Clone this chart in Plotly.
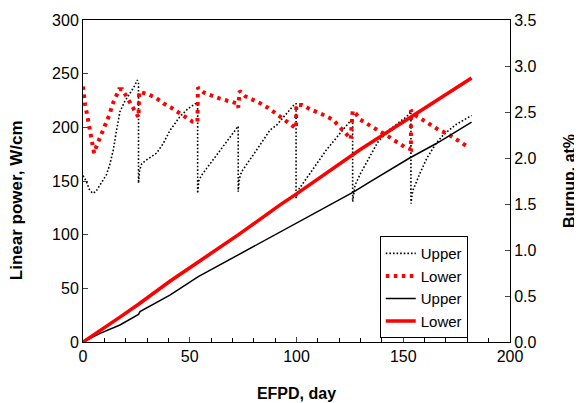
import plotly.graph_objects as go

# Linear power, Upper (black dotted)
up_day = [0, 1.5, 3, 4.5, 6, 8, 11, 12.5, 14.2, 15.5, 17.3, 19.5, 22, 24, 25.4, 26,
          26, 26.5, 27.5, 30, 34.5, 37.6, 40.7, 45.4, 49, 52.5, 53.7,
          53.7, 54.2, 55.6, 58, 61, 65.7, 71.2, 72.7,
          72.7, 73.2, 74.3, 78.2, 82.9, 87.6, 90.7, 95.4, 99.3, 99.8,
          99.8, 100.3, 100.8, 106.3, 110, 114, 120.4, 125.9, 126.3,
          126.3, 126.8, 127.4, 130, 134, 138, 143, 148, 151.6, 153.6,
          153.6, 154.2, 154.7, 158, 161, 165, 168.8, 175, 182]
up_pow = [155, 150, 142, 138.5, 140, 146, 156, 165, 179, 195, 214.6, 224, 231.7, 238, 244, 242,
          148, 160, 166, 170, 176, 185, 197, 210, 217, 222, 222,
          138.5, 150, 155.6, 162, 170, 183, 197.5, 201,
          140, 152, 158.7, 169.6, 183.5, 197.5, 202, 213, 222, 222,
          134, 138, 141.6, 157, 168, 179, 194.4, 207, 208.4,
          130.7, 140, 146, 157, 172, 186, 197, 205, 210, 214.6,
          129, 138, 142, 158, 171, 184, 193, 203, 211]

# Linear power, Lower (red dotted)
lo_day = [0, 0.5, 1, 1.8, 2.5, 3, 4, 4.5, 5.2, 6.4, 8, 9.5, 11, 12.6, 13.7, 15.3, 16.9, 18.4,
          20.5, 22.3, 24.4, 26, 26.3, 30.6, 34.5, 37.6, 41, 44.6, 47.8, 51.3, 53.6,
          53.8, 56.7, 60.6, 64.2, 68.2, 71.9, 72.7, 73.4, 76, 79.8, 83.4, 86.8, 90.2, 93.4,
          96.6, 99.8, 99.9, 102.7, 106.3, 110.2, 113.8, 117.2, 120, 122.8, 125.4, 126.3,
          127.7, 129.6, 133.3, 136.8, 140.3, 143.8, 147.2, 150.5, 153.6, 153.6, 156.2,
          159.7, 163.3, 166.7, 170.3, 174, 177.4, 181]
lo_pow = [238, 228, 221, 213, 205, 197, 189, 181, 176, 183, 190, 198, 205, 213, 221, 228, 235.5, 235.5,
          228.6, 221.5, 214.6, 209.4, 233, 230.8, 227, 222.4, 218.7, 214, 210, 205.3, 205,
          237, 232.3, 229.2, 226.7, 224.5, 222.4, 218.3, 233.9, 229, 225.8, 222, 218, 213, 208.4,
          203.8, 199, 221, 220.8, 217, 214, 210.6, 206.8, 201.5, 195, 189, 215.5,
          213, 207.5, 203, 199, 195, 190.6, 186, 182, 179.5, 216, 210.6,
          206, 201.6, 197.5, 194.4, 189.8, 185.7, 181]

# Burnup, Upper (black solid)
bu_up_day = [0, 8, 17.3, 26, 26.7, 40.7, 54, 73, 92.3, 100, 111, 126.6, 134.4, 153, 165.7, 182]
bu_up_val = [0, 0.094, 0.185, 0.3, 0.33, 0.51, 0.71, 0.95, 1.2, 1.3, 1.43, 1.63, 1.74, 2.0, 2.16, 2.39]

# Burnup, Lower (red thick)
bu_lo_day = [0, 8, 17.3, 26, 40.7, 54, 73, 92.3, 100, 129.7, 153, 182]
bu_lo_val = [0, 0.13, 0.27, 0.41, 0.66, 0.87, 1.17, 1.49, 1.61, 2.09, 2.44, 2.87]

FONT = "Arial, Liberation Sans, sans-serif"

fig = go.Figure()
fig.add_trace(go.Scatter(x=up_day, y=up_pow, mode="lines", name="Upper",
                         line=dict(color="black", width=1.6, dash="1.6px,2px")))
fig.add_trace(go.Scatter(x=lo_day, y=lo_pow, mode="lines", name="Lower",
                         line=dict(color="#ff0000", width=4, dash="3.5px,4.5px")))
fig.add_trace(go.Scatter(x=bu_up_day, y=bu_up_val, mode="lines", name="Upper", yaxis="y2",
                         line=dict(color="black", width=1.5)))
fig.add_trace(go.Scatter(x=bu_lo_day, y=bu_lo_val, mode="lines", name="Lower", yaxis="y2",
                         line=dict(color="#ff0000", width=3.5)))

# page body has an 8px margin, so the figure is 8px smaller and offset
fig.update_layout(
    width=574, height=395,
    margin=dict(l=75, r=72, t=12, b=61, autoexpand=False),
    paper_bgcolor="white", plot_bgcolor="white",
    font=dict(family=FONT, size=16, color="black"),
    showlegend=True,
    legend=dict(x=0.695, y=0.012, xanchor="left", yanchor="bottom",
                bordercolor="black", borderwidth=1, bgcolor="white",
                font=dict(size=15), tracegroupgap=0, itemwidth=30),
    xaxis=dict(range=[0, 200], dtick=50, ticks="inside", ticklen=5, tickwidth=1,
               showline=True, linecolor="black", linewidth=1, mirror=True,
               showgrid=False, zeroline=False, automargin=False,
               minor=dict(dtick=10, ticks="inside", ticklen=4, tickcolor="black"),
               title=dict(text="<b>EFPD, day</b>", font=dict(size=16), standoff=23)),
    yaxis=dict(range=[0, 300], dtick=50, ticks="inside", ticklen=5,
               showline=True, linecolor="black", linewidth=1,
               showgrid=False, zeroline=False, automargin=False),
    yaxis2=dict(range=[0, 3.5], dtick=0.5, tickformat=".1f", ticks="inside", ticklen=5,
                overlaying="y", side="right",
                showline=True, linecolor="black", linewidth=1,
                showgrid=False, zeroline=False, automargin=False,
                title=dict(text="<b>Burnup, at%</b>", font=dict(size=16), standoff=28)),
    annotations=[dict(text="<b>Linear power, W/cm</b>", xref="paper", yref="paper",
                      x=-0.155, y=0.44, textangle=-90, showarrow=False,
                      xanchor="center", yanchor="middle", font=dict(size=17))],
)

fig.write_html("out.html")
